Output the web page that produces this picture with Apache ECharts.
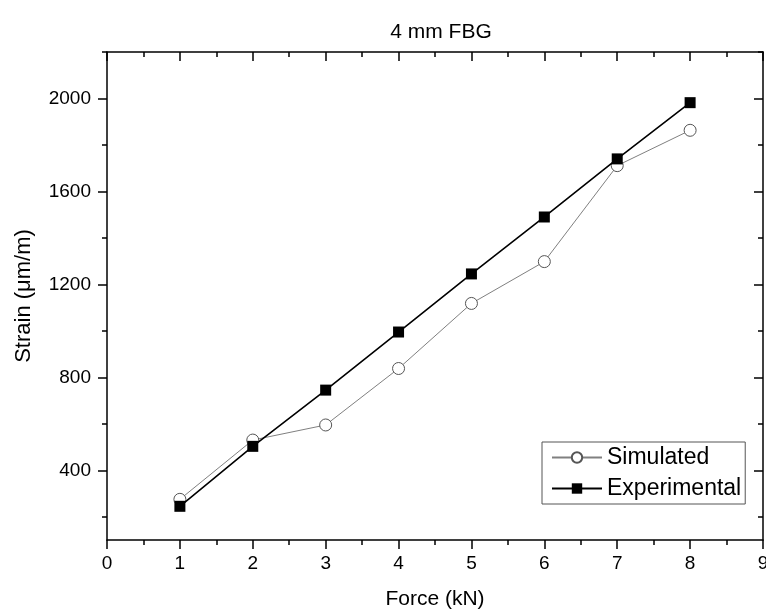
<!DOCTYPE html>
<html>
<head>
<meta charset="utf-8">
<script src="https://cdn.jsdelivr.net/npm/echarts@6.0.0/dist/echarts.min.js"></script>
<style>
html, body { margin: 0; padding: 0; background: #fff; }
#main { width: 766px; height: 613px; }
</style>
</head>
<body>
<div id="main"></div>
<script>
// values
var force = [1, 2, 3, 4, 5, 6, 7, 8];
var simulated = [275, 530, 595, 838, 1118, 1298, 1711, 1863];
var experimental = [245, 503, 745, 995, 1245, 1490, 1740, 1982];
var strainMajor = [400, 800, 1200, 1600, 2000];
var strainMinor = [200, 600, 1000, 1400, 1800, 2200];

var font = "'Liberation Sans', Arial, sans-serif";

function pairs(ys) {
    return force.map(function (x, i) { return [x, ys[i]]; });
}

var myChart = echarts.init(document.getElementById('main'));

var frame = { show: true, lineStyle: { color: '#000', width: 1.5 } };

function yAxis(pos, inside, values, len, major) {
    return {
        type: 'value',
        position: pos,
        min: 100,
        max: 2200,
        axisLine: major ? frame : { show: false },
        splitLine: { show: false },
        axisTick: {
            show: true,
            inside: inside,
            length: len,
            customValues: values,
            lineStyle: { color: '#000', width: 1.5 }
        },
        axisLabel: {
            show: major && pos === 'left',
            customValues: strainMajor,
            formatter: function (v) { return String(v); },
            margin: 16,
            color: '#000',
            fontSize: 19,
            fontFamily: font
        },
        name: major && pos === 'left' ? 'Strain (\u03bcm/m)' : '',
        nameLocation: 'middle',
        nameGap: 72,
        nameTextStyle: { color: '#000', fontSize: 22, fontFamily: font }
    };
}

var option = {
    animation: false,
    backgroundColor: '#fff',
    title: {
        text: '4 mm FBG',
        left: 436,
        textAlign: 'center',
        top: 17,
        textStyle: { color: '#000', fontSize: 21, fontWeight: 'normal', fontFamily: font }
    },
    grid: { left: 107, right: 3, top: 52, bottom: 73, outerBoundsMode: 'none' },
    legend: {
        left: 542,
        top: 442,
        orient: 'vertical',
        backgroundColor: '#fff',
        borderColor: '#555',
        borderWidth: 1,
        borderRadius: 0,
        padding: [4, 4, 4, 9],
        itemGap: 8,
        itemWidth: 50,
        itemHeight: 13,
        textStyle: { color: '#000', fontSize: 23, fontFamily: font },
        data: ['Simulated', 'Experimental']
    },
    xAxis: [
        {
            type: 'value',
            position: 'bottom',
            min: 0,
            max: 9,
            interval: 1,
            axisLine: frame,
            splitLine: { show: false },
            axisTick: { inside: false, length: 9, lineStyle: { color: '#000', width: 1.5 } },
            minorTick: { show: true, splitNumber: 2, length: 5, lineStyle: { color: '#000', width: 1.5 } },
            axisLabel: { margin: 14, color: '#000', fontSize: 19, fontFamily: font },
            name: 'Force (kN)',
            nameLocation: 'middle',
            nameGap: 49,
            nameTextStyle: { color: '#000', fontSize: 21, fontFamily: font }
        },
        {
            type: 'value',
            position: 'top',
            min: 0,
            max: 9,
            interval: 1,
            axisLine: frame,
            splitLine: { show: false },
            axisTick: { inside: true, length: 9, lineStyle: { color: '#000', width: 1.5 } },
            minorTick: { show: true, splitNumber: 2, length: 5, lineStyle: { color: '#000', width: 1.5 } },
            axisLabel: { show: false }
        }
    ],
    yAxis: [
        yAxis('left', false, strainMajor, 9, true),
        yAxis('left', false, strainMinor, 5, false),
        yAxis('right', true, strainMajor, 9, true),
        yAxis('right', true, strainMinor, 5, false)
    ],
    series: [
        {
            name: 'Simulated',
            type: 'line',
            data: pairs(simulated),
            symbol: 'circle',
            symbolSize: 12,
            lineStyle: { color: '#808080', width: 1 },
            itemStyle: { color: '#fff', borderColor: '#555', borderWidth: 1 },
            z: 2
        },
        {
            name: 'Experimental',
            type: 'line',
            data: pairs(experimental),
            symbol: 'rect',
            symbolSize: 11,
            lineStyle: { color: '#000', width: 1.6 },
            itemStyle: { color: '#000' },
            z: 3
        }
    ]
};

myChart.setOption(option);
</script>
</body>
</html>
